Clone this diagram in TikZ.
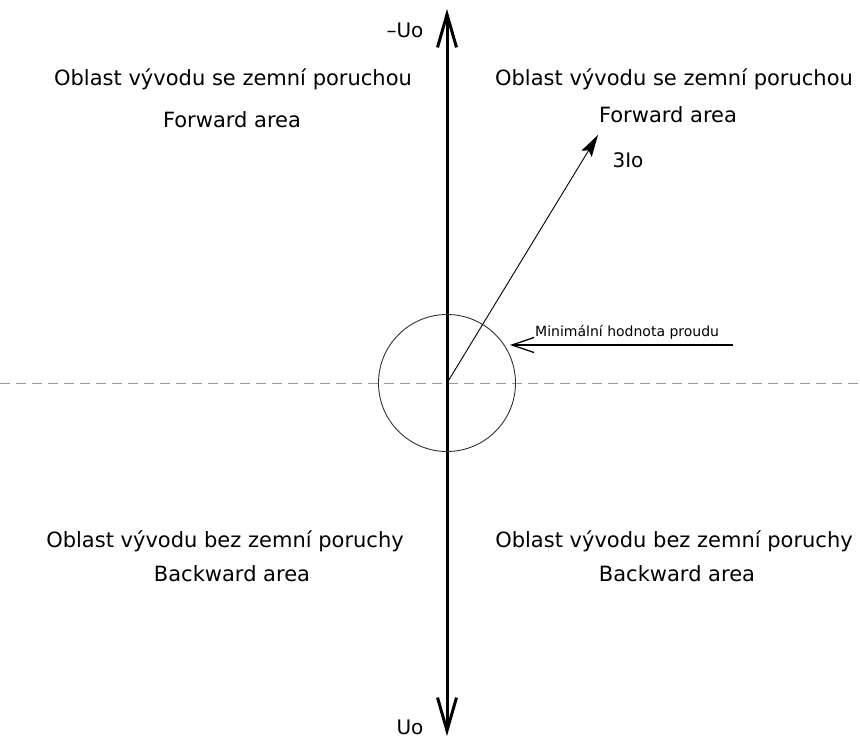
\documentclass[tikz,border=0pt]{standalone}
\usepackage{fontspec}
\setmainfont{DejaVu Sans}
\usetikzlibrary{arrows.meta}
\tikzset{
  area/.style={font=\fontsize{21}{25}\selectfont, anchor=base, inner sep=0pt},
  axislbl/.style={font=\fontsize{20}{24}\selectfont, inner sep=0pt},
  axisline/.style={line width=3pt, {Straight Barb[length=33pt,width=19pt]}-{Straight Barb[length=33pt,width=19pt]}},
  phasor/.style={line width=0.9pt, -{Stealth[length=22pt,width=12pt,inset=4pt]}},
  minline/.style={line width=1.3pt, -{Straight Barb[length=22pt,width=15pt]}}
}
\begin{document}
\begin{tikzpicture}[x=1pt,y=-1pt]
  \useasboundingbox (0,0) rectangle (860,738);
  % reference line and axis
  \coordinate (wl) at (0,383);
  \coordinate (wr) at (860,383);
  \draw[gray!80, line width=1pt, dash pattern=on 10pt off 6pt] (wl) -- (wr);
  \coordinate (O) at (447,383);
  \coordinate (top) at (447,9);
  \coordinate (bot) at (447,736);
  \draw[axisline] (bot) -- (top);
  \node[axislbl] (mUo) at (405,30) {--Uo};
  \node[axislbl] (Uo) at (410,727) {Uo};
  % minimum current circle
  \node[circle, draw=black!80, line width=0.9pt, minimum size=137pt, inner sep=0pt] (minc) at (O) {};
  \coordinate (I0) at (598,135);
  \draw[phasor] (O) -- (I0);
  \node[axislbl] (lbl3I) at (628,160) {3Io};
  \coordinate (mintail) at (733,345);
  \coordinate (mintip) at (510,345);
  \draw[minline] (mintail) -- (mintip);
  \node[anchor=base west, inner sep=0pt, font=\fontsize{14}{17}\selectfont] (mintext) at (535,337) {Minimální hodnota proudu};
  % areas
  \node[area] (fwdL) at (233,86) {Oblast vývodu se zemní poruchou};
  \node[area] (fwdLe) at (232,128) {Forward area};
  \node[area] (fwdR) at (674,86) {Oblast vývodu se zemní poruchou};
  \node[area] (fwdRe) at (668,123) {Forward area};
  \node[area] (bwdL) at (225,547) {Oblast vývodu bez zemní poruchy};
  \node[area] (bwdLe) at (232,581) {Backward area};
  \node[area] (bwdR) at (674,547) {Oblast vývodu bez zemní poruchy};
  \node[area] (bwdRe) at (677,581) {Backward area};
\end{tikzpicture}
\end{document}
